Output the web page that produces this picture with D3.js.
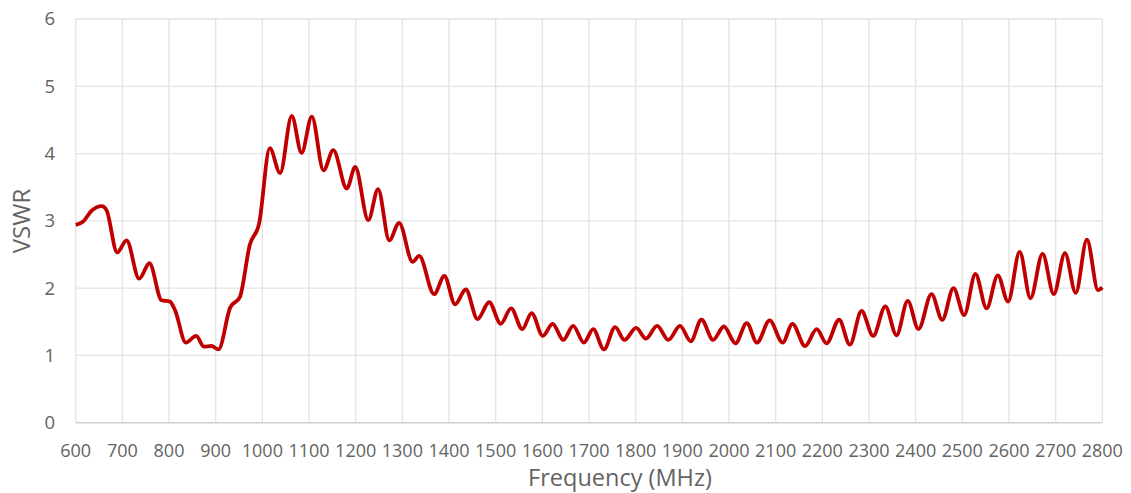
<!DOCTYPE html>
<html lang="en">
<head>
<meta charset="UTF-8">
<title>VSWR</title>
<script src="https://cdn.jsdelivr.net/npm/d3@7"></script>
<style>
  body { margin: 0; background: #fff; }
  text { font-family: "Open Sans", "Noto Sans", sans-serif; fill: #636363; }
</style>
</head>
<body>
<script>
// (peaks / troughs mostly)
var freq = [600, 616, 634, 656, 666, 689, 709, 736, 758, 784, 802, 813, 836, 858, 875, 891, 906,
  931, 952, 973, 993, 1016, 1038, 1063, 1084, 1106, 1131, 1152, 1181, 1199, 1227, 1248, 1272,
  1293, 1322, 1336, 1368, 1390, 1413, 1436, 1461, 1486, 1511, 1533, 1557, 1577, 1601, 1622,
  1645, 1666, 1689, 1709, 1732, 1756, 1776, 1801, 1822, 1846, 1870, 1895, 1918, 1941, 1966,
  1989, 2014, 2038, 2060, 2087, 2115, 2136, 2163, 2188, 2209, 2236, 2259, 2284, 2309, 2335,
  2359, 2383, 2406, 2434, 2457, 2481, 2504, 2528, 2552, 2576, 2598, 2623, 2646, 2672, 2696,
  2720, 2743, 2767, 2791, 2800];
var vswr = [2.94, 2.99, 3.15, 3.22, 3.16, 2.53, 2.71, 2.14, 2.37, 1.82, 1.80, 1.67, 1.19, 1.29,
  1.13, 1.14, 1.09, 1.71, 1.87, 2.64, 2.96, 4.08, 3.71, 4.56, 4.01, 4.55, 3.75, 4.05, 3.48,
  3.80, 3.01, 3.47, 2.71, 2.97, 2.39, 2.48, 1.91, 2.18, 1.76, 1.98, 1.54, 1.79, 1.47, 1.70,
  1.39, 1.63, 1.29, 1.47, 1.23, 1.44, 1.19, 1.39, 1.09, 1.42, 1.23, 1.41, 1.25, 1.44, 1.23,
  1.44, 1.21, 1.53, 1.23, 1.43, 1.18, 1.48, 1.19, 1.52, 1.19, 1.47, 1.14, 1.39, 1.18, 1.53,
  1.16, 1.66, 1.29, 1.73, 1.30, 1.81, 1.39, 1.91, 1.53, 2.00, 1.60, 2.21, 1.70, 2.19, 1.80,
  2.54, 1.85, 2.51, 1.91, 2.52, 1.93, 2.72, 1.97, 2.01];
var xTicks = d3.range(600, 2801, 100);
var yTicks = [0, 1, 2, 3, 4, 5, 6];

var W = 1131, H = 493;
var m = {top: 19, right: 28.7, bottom: 70.3, left: 75.7};

var svg = d3.select("body").append("svg")
  .attr("width", W).attr("height", H);

var x = d3.scaleLinear().domain([600, 2800]).range([m.left, W - m.right]);
var y = d3.scaleLinear().domain([0, 6]).range([H - m.bottom, m.top]);

// grid
svg.append("g").selectAll("line").data(xTicks).enter().append("line")
  .attr("x1", d => x(d)).attr("x2", d => x(d))
  .attr("y1", y(6)).attr("y2", y(0))
  .attr("stroke", "#e3e3e3").attr("stroke-width", 1.3);
svg.append("g").selectAll("line").data(yTicks.slice(1)).enter().append("line")
  .attr("x1", x(600)).attr("x2", x(2800))
  .attr("y1", d => y(d)).attr("y2", d => y(d))
  .attr("stroke", "#e3e3e3").attr("stroke-width", 1.3);
// bottom axis line
svg.append("line")
  .attr("x1", x(600)).attr("x2", x(2800))
  .attr("y1", y(0)).attr("y2", y(0))
  .attr("stroke", "#cfcfcf").attr("stroke-width", 1.5);

// tick labels
svg.append("g").selectAll("text").data(yTicks).enter().append("text")
  .attr("x", 55).attr("y", d => y(d)).attr("dy", "0.35em")
  .attr("text-anchor", "end").attr("font-size", "18.5px")
  .text(d => d);
svg.append("g").selectAll("text").data(xTicks).enter().append("text")
  .attr("x", d => x(d)).attr("y", 451).attr("dy", "0.35em")
  .attr("text-anchor", "middle").attr("font-size", "18px")
  .text(d => d);

// axis titles
svg.append("text")
  .attr("x", 620).attr("y", 478).attr("dy", "0.35em")
  .attr("text-anchor", "middle").attr("font-size", "23.5px")
  .text("Frequency (MHz)");
svg.append("text")
  .attr("transform", "translate(22," + 221 + ") rotate(-90)")
  .attr("dy", "0.35em")
  .attr("text-anchor", "middle").attr("font-size", "24px")
  .text("VSWR");

// the curve
var line = d3.line()
  .x((d, i) => x(freq[i]))
  .y(d => y(d))
  .curve(d3.curveMonotoneX);

svg.append("path")
  .datum(vswr)
  .attr("d", line)
  .attr("fill", "none")
  .attr("stroke", "#c00000")
  .attr("stroke-width", 3.8)
  .attr("stroke-linejoin", "round");
</script>
</body>
</html>
